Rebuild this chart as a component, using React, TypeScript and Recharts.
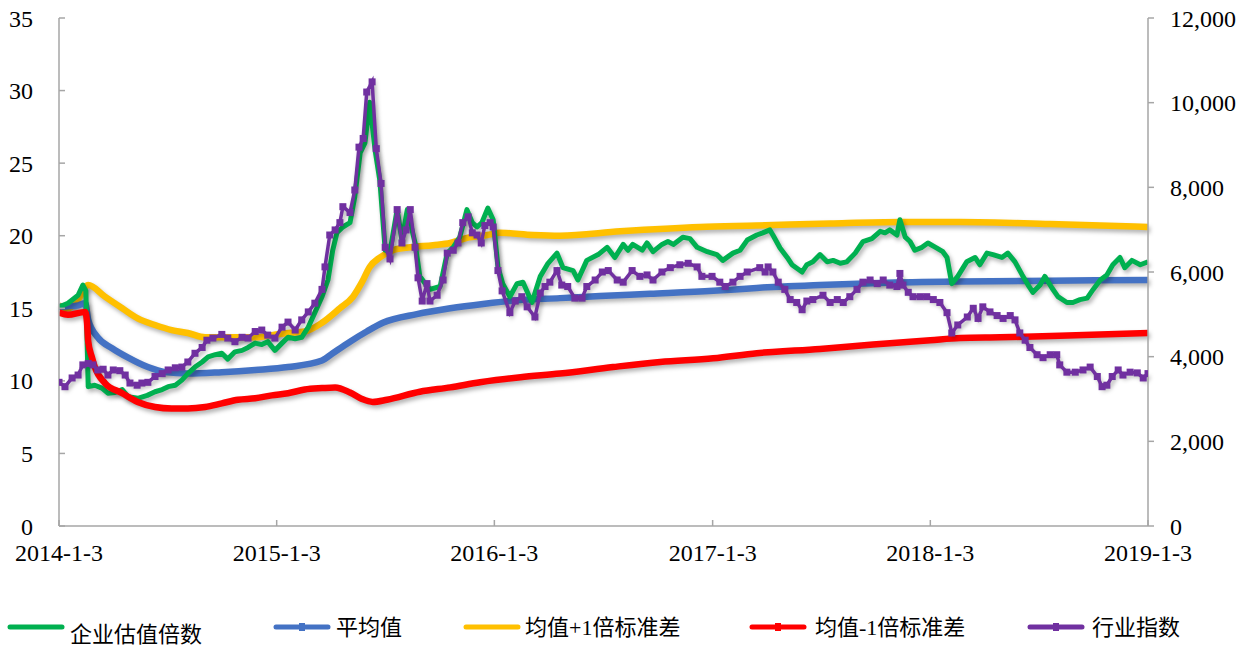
import React from "react";
import { LineChart, Line, XAxis, YAxis, Legend } from "recharts";

// x values are days since 2014-1-3
const xTicks = [0, 365, 730, 1096, 1461, 1826];
const xTickLabels = ["2014-1-3", "2015-1-3", "2016-1-3", "2017-1-3", "2018-1-3", "2019-1-3"];
const leftTicks = [0, 5, 10, 15, 20, 25, 30, 35];
const rightTicks = [0, 2000, 4000, 6000, 8000, 10000, 12000];

const seriesNames = ["企业估值倍数", "平均值", "均值+1倍标准差", "均值-1倍标准差", "行业指数"];

// 企业估值倍数
const multipleDays = [
  0, 15, 32, 40, 45, 49, 60, 72, 82, 94, 106, 116, 132, 148, 161, 173, 183, 195, 206, 216,
  228, 240, 250, 262, 273, 283, 295, 307, 317, 329, 340, 350, 362, 374, 384, 396, 407, 418, 429, 441,
  451, 459, 466, 476, 488, 496, 505, 513, 521, 530, 538, 547, 555, 567, 575, 584, 597, 605, 614, 622,
  639, 651, 661, 672, 684, 693, 701, 709, 719, 728, 736, 744, 756, 768, 778, 793, 807, 820, 835, 845,
  862, 870, 885, 904, 919, 932, 946, 954, 962, 978, 986, 996, 1011, 1021, 1030, 1046, 1058, 1070, 1087, 1103,
  1113, 1130, 1142, 1154, 1170, 1180, 1192, 1197, 1209, 1221, 1229, 1246, 1254, 1264, 1276, 1288, 1298, 1310, 1321, 1335,
  1348, 1363, 1377, 1385, 1393, 1405, 1410, 1419, 1427, 1435, 1447, 1457, 1472, 1482, 1489, 1497, 1507, 1522, 1536, 1544,
  1556, 1566, 1581, 1591, 1603, 1615, 1625, 1633, 1645, 1653, 1665, 1675, 1690, 1700, 1712, 1724, 1734, 1746, 1757, 1767,
  1779, 1787, 1799, 1813, 1826,
];
const multipleValues = [
  15.1, 15.35, 15.9, 16.6, 16.2, 9.6, 9.7, 9.5, 9.15, 9.2, 9.4, 8.9, 8.8, 9.0, 9.25, 9.4, 9.6, 9.7, 10.05, 10.5,
  10.95, 11.3, 11.65, 11.8, 11.9, 11.5, 12.0, 12.1, 12.3, 12.6, 12.5, 12.7, 12.1, 12.6, 13.0, 12.9, 13.0, 13.7, 14.7, 15.8,
  16.95, 19.0, 20.2, 20.6, 20.9, 22.7, 25.7, 26.4, 29.2, 25.9, 23.8, 19.0, 18.9, 21.8, 19.7, 21.8, 19.5, 17.2, 16.7, 16.3,
  16.5, 18.8, 19.2, 19.9, 21.8, 20.9, 20.6, 20.9, 21.9, 21.1, 17.85, 16.7, 15.8, 16.7, 16.8, 15.4, 17.2, 18.1, 18.8, 17.8,
  17.6, 16.95, 18.3, 18.7, 19.2, 18.5, 19.4, 19.0, 19.4, 19.0, 19.5, 18.9, 19.4, 19.6, 19.4, 19.9, 19.8, 19.2, 18.9, 18.7,
  18.3, 18.8, 19.0, 19.7, 20.05, 20.2, 20.4, 20.05, 19.15, 18.5, 18.0, 17.5, 18.0, 18.2, 18.7, 18.2, 18.3, 18.1, 18.2, 18.8,
  19.6, 19.8, 20.3, 20.2, 20.4, 20.05, 21.1, 19.9, 19.6, 19.0, 19.2, 19.5, 19.15, 18.9, 18.5, 16.7, 17.2, 18.2, 18.5, 18.0,
  18.8, 18.7, 18.5, 18.8, 18.2, 17.3, 16.6, 16.1, 16.6, 17.2, 16.4, 15.8, 15.4, 15.4, 15.6, 15.7, 16.3, 16.95, 17.3, 18.0,
  18.5, 17.8, 18.3, 18.0, 18.2,
];

// 平均值
const meanDays = [0, 32, 44, 49, 65, 89, 116, 149, 178, 216, 273, 329, 384, 441, 459, 488, 516, 543, 600, 656, 711, 768, 840, 907, 991, 1097, 1170, 1276, 1377, 1511, 1662, 1826];
const meanValues = [15.1, 15.2, 15.35, 14.2, 13.0, 12.25, 11.6, 10.95, 10.6, 10.5, 10.6, 10.75, 10.95, 11.4, 11.9, 12.7, 13.4, 14.0, 14.6, 15.0, 15.3, 15.55, 15.7, 15.85, 16.0, 16.2, 16.4, 16.6, 16.75, 16.85, 16.9, 16.95];

// 均值+1倍标准差
const upperDays = [0, 15, 32, 49, 77, 106, 132, 161, 189, 216, 245, 300, 329, 357, 384, 412, 441, 471, 493, 508, 521, 538, 560, 589, 627, 656, 684, 718, 739, 795, 840, 941, 1075, 1170, 1293, 1410, 1511, 1662, 1826];
const upperValues = [15.2, 15.0, 15.6, 16.6, 15.8, 15.0, 14.3, 13.85, 13.5, 13.3, 13.0, 13.0, 13.0, 13.15, 13.3, 13.4, 14.0, 15.0, 15.8, 16.8, 17.85, 18.5, 19.0, 19.2, 19.35, 19.5, 19.85, 20.05, 20.2, 20.05, 20.0, 20.3, 20.6, 20.7, 20.85, 20.95, 20.95, 20.8, 20.6];

// 均值-1倍标准差
const lowerDays = [0, 15, 44, 47, 49, 55, 60, 77, 106, 132, 161, 189, 216, 245, 273, 300, 329, 357, 384, 412, 441, 463, 488, 508, 526, 550, 605, 656, 706, 774, 840, 929, 1008, 1097, 1170, 1276, 1365, 1461, 1511, 1578, 1678, 1826];
const lowerValues = [14.7, 14.55, 14.75, 14.0, 12.7, 11.65, 10.95, 9.85, 9.15, 8.55, 8.2, 8.1, 8.1, 8.2, 8.45, 8.7, 8.8, 9.0, 9.15, 9.4, 9.5, 9.55, 9.2, 8.75, 8.55, 8.7, 9.25, 9.55, 9.9, 10.25, 10.5, 10.95, 11.3, 11.55, 11.9, 12.2, 12.5, 12.8, 12.95, 13.0, 13.1, 13.3];

// 行业指数 (right axis)
const indexDays = [
  0, 10, 22, 32, 40, 49, 57, 65, 74, 82, 91, 102, 111, 119, 131, 139, 149, 161, 173, 183,
  195, 206, 216, 228, 240, 248, 258, 273, 283, 295, 307, 317, 329, 340, 350, 362, 374, 384, 396, 407,
  418, 429, 441, 446, 454, 463, 471, 476, 488, 496, 503, 510, 516, 525, 532, 540, 547, 555, 567, 575,
  582, 589, 597, 602, 609, 617, 622, 634, 644, 651, 661, 669, 677, 686, 693, 701, 708, 714, 723, 728,
  736, 743, 756, 765, 776, 785, 798, 807, 815, 823, 835, 843, 853, 865, 877, 885, 899, 911, 921, 936,
  946, 961, 974, 986, 996, 1011, 1025, 1041, 1055, 1070, 1078, 1095, 1108, 1117, 1130, 1142, 1154, 1175, 1184, 1189,
  1197, 1206, 1217, 1226, 1237, 1246, 1254, 1264, 1281, 1293, 1305, 1315, 1326, 1338, 1348, 1360, 1372, 1382, 1393, 1405,
  1410, 1415, 1424, 1432, 1444, 1455, 1466, 1477, 1489, 1497, 1507, 1523, 1533, 1541, 1549, 1561, 1573, 1583, 1595, 1603,
  1611, 1620, 1628, 1640, 1650, 1662, 1673, 1678, 1690, 1704, 1717, 1729, 1741, 1749, 1757, 1766, 1776, 1784, 1796, 1808,
  1818, 1826,
];
const indexValues = [
  3394, 3291, 3497, 3566, 3806, 3840, 3806, 3686, 3703, 3566, 3686, 3669, 3566, 3377, 3326, 3377, 3394, 3531, 3600, 3686,
  3737, 3754, 3874, 4080, 4217, 4389, 4440, 4526, 4440, 4354, 4457, 4440, 4594, 4629, 4509, 4440, 4697, 4817, 4629, 4869,
  5057, 5263, 5589, 6120, 6874, 6994, 7166, 7543, 7406, 7937, 8949, 9154, 10251, 10491, 8914, 8091, 6583, 6309, 7474, 6686,
  6994, 7474, 6583, 5863, 5314, 5726, 5314, 5451, 5811, 6446, 6514, 6686, 7166, 7303, 6926, 6874, 6686, 7097, 7166, 7063,
  6034, 5554, 5040, 5314, 5417, 5177, 4937, 5503, 5657, 5760, 6034, 5691, 5657, 5383, 5383, 5657, 5811, 6000, 6034, 5811,
  5760, 6034, 5897, 5931, 5811, 6000, 6103, 6171, 6206, 6120, 5897, 5897, 5760, 5657, 5760, 5897, 6000, 6103, 6000, 6120,
  6000, 5760, 5589, 5349, 5280, 5109, 5314, 5349, 5451, 5280, 5349, 5280, 5417, 5589, 5760, 5811, 5726, 5811, 5691, 5657,
  5966, 5691, 5520, 5417, 5417, 5417, 5349, 5280, 5040, 4560, 4749, 4937, 5143, 4903, 5177, 5057, 4971, 4903, 4971, 4869,
  4560, 4389, 4217, 4046, 3977, 4046, 4046, 3806, 3634, 3634, 3686, 3754, 3531, 3291, 3326, 3531, 3686, 3566, 3634, 3617,
  3497, 3600,
];

const toPoints = (days: number[], values: number[]) => days.map((d, i) => ({ day: d, value: values[i] }));

const COLORS = ["#00B050", "#4472C4", "#FFC000", "#FF0000", "#7030A0"];
const serif = "'Liberation Serif', 'Times New Roman', serif";
const legendFont = "'Liberation Serif', 'Noto Sans CJK SC', serif";

// legend item layout: sample line start, text start, text baseline
const legendLayout = [
  { lineX: 10, textX: 70, baseline: 40, marker: false },
  { lineX: 276, textX: 336, baseline: 33, marker: true },
  { lineX: 466, textX: 525, baseline: 33, marker: false },
  { lineX: 752, textX: 815, baseline: 33, marker: true },
  { lineX: 1030, textX: 1092, baseline: 33, marker: true },
];

const SquareDot = (props: any) => {
  const { cx, cy } = props;
  if (cx == null || cy == null) return <g />;
  return <rect x={cx - 3.5} y={cy - 3.5} width={7} height={7} fill="#7030A0" />;
};

const ChartLegend = () => (
  <svg width={1253} height={50}>
    {seriesNames.map((name, i) => {
      const l = legendLayout[i];
      return (
        <g key={name}>
          <line x1={l.lineX} x2={l.lineX + 52} y1={25} y2={25} stroke={COLORS[i]} strokeWidth={5} strokeLinecap="round" />
          {l.marker && <rect x={l.lineX + 23} y={21} width={6} height={8} fill={COLORS[i]} />}
          <text x={l.textX} y={l.baseline} fontSize={22} fontFamily={legendFont} fill="#000">
            {name}
          </text>
        </g>
      );
    })}
  </svg>
);

const axisStroke = "#A6A6A6";

export default function App() {
  return (
    <div style={{ position: "absolute", left: 0, top: 0, background: "#fff" }}>
      <style>{`.recharts-line { filter: drop-shadow(2px 3px 2px rgba(0,0,0,0.3)); }`}</style>
      <LineChart width={1253} height={649} margin={{ top: 18, right: 0, left: 0, bottom: 0 }}>
        <XAxis
          dataKey="day"
          type="number"
          domain={[0, 1826]}
          ticks={xTicks}
          tickFormatter={(v: number) => xTickLabels[xTicks.indexOf(v)] ?? ""}
          height={123}
          tickSize={-6}
          tickMargin={24}
          stroke={axisStroke}
          strokeWidth={1.5}
          tick={{ fontSize: 24, fill: "#000", fontFamily: serif }}
          allowDataOverflow
        />
        <YAxis
          yAxisId="left"
          domain={[0, 35]}
          ticks={leftTicks}
          width={59}
          tickSize={-6}
          tickMargin={32}
          stroke={axisStroke}
          strokeWidth={1.5}
          tick={{ fontSize: 24, fill: "#000", fontFamily: serif }}
        />
        <YAxis
          yAxisId="right"
          orientation="right"
          domain={[0, 12000]}
          ticks={rightTicks}
          width={105}
          tickSize={6}
          tickMargin={16}
          stroke={axisStroke}
          strokeWidth={1.5}
          tickFormatter={(v: number) => v.toLocaleString("en-US")}
          tick={{ fontSize: 24, fill: "#000", fontFamily: serif }}
        />
        <Legend
          verticalAlign="middle"
          align="center"
          wrapperStyle={{ left: 0, top: 602, width: 1253 }}
          content={() => <ChartLegend />}
        />
        <Line yAxisId="left" data={toPoints(upperDays, upperValues)} dataKey="value" name={seriesNames[2]} type="monotone" stroke={COLORS[2]} strokeWidth={6.5} dot={false} isAnimationActive={false} />
        <Line yAxisId="left" data={toPoints(meanDays, meanValues)} dataKey="value" name={seriesNames[1]} type="monotone" stroke={COLORS[1]} strokeWidth={6.5} dot={false} isAnimationActive={false} />
        <Line yAxisId="left" data={toPoints(multipleDays, multipleValues)} dataKey="value" name={seriesNames[0]} type="linear" stroke={COLORS[0]} strokeWidth={5} strokeLinejoin="round" dot={false} isAnimationActive={false} />
        <Line yAxisId="left" data={toPoints(lowerDays, lowerValues)} dataKey="value" name={seriesNames[3]} type="monotone" stroke={COLORS[3]} strokeWidth={6.5} dot={false} isAnimationActive={false} />
        <Line yAxisId="right" data={toPoints(indexDays, indexValues)} dataKey="value" name={seriesNames[4]} type="linear" stroke={COLORS[4]} strokeWidth={3.5} dot={(p: any) => <SquareDot key={p.index} cx={p.cx} cy={p.cy} />} isAnimationActive={false} />
      </LineChart>
    </div>
  );
}
